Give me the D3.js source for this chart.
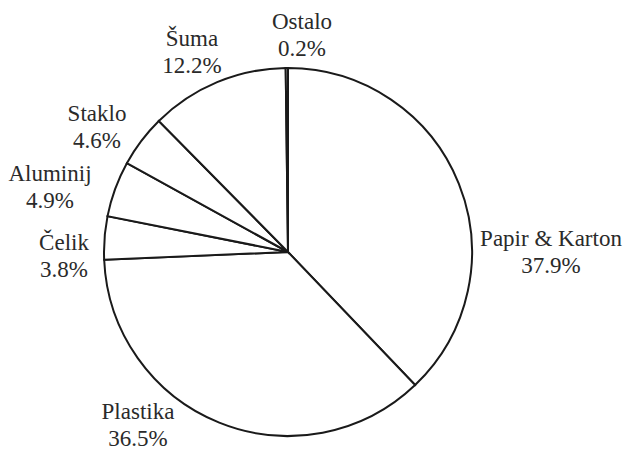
<!DOCTYPE html>
<html>
<head>
<script src="https://cdn.jsdelivr.net/npm/d3@7"></script>
</head>
<body style="margin:0">
<div id="chart"></div>
<script>
// clockwise from 12 o'clock
const categories = ["Papir & Karton", "Plastika", "Čelik", "Aluminij", "Staklo", "Šuma", "Ostalo"];
const shares = [37.9, 36.5, 3.8, 4.9, 4.6, 12.2, 0.2];
const shareLabels = ["37.9%", "36.5%", "3.8%", "4.9%", "4.6%", "12.2%", "0.2%"];

// label anchor points (text centre, first-line baseline)
const labelPos = [[551, 246], [138, 419], [64, 250], [50, 181], [97, 121], [192, 46], [302, 29]];

const width = 623;
const height = 452;
const cx = 288;
const cy = 252;
const radius = 184;

const svg = d3.select("#chart").append("svg").attr("width", width).attr("height", height);
const g = svg.append("g").attr("transform", `translate(${cx},${cy})`);

const pie = d3.pie().sort(null).value((d) => d.value).startAngle(0).endAngle(2 * Math.PI);
const arc = d3.arc().innerRadius(0).outerRadius(radius);
const slices = pie(categories.map((name, i) => ({ name, value: shares[i], label: shareLabels[i] })));

g.selectAll("path")
  .data(slices)
  .join("path")
  .attr("d", arc)
  .attr("fill", "#ffffff")
  .attr("stroke", "#1a1a1a")
  .attr("stroke-width", 2)
  .attr("stroke-linejoin", "miter");

slices.forEach((s, i) => {
  const [x, y] = labelPos[i];
  const t = svg
    .append("text")
    .attr("x", x)
    .attr("y", y)
    .attr("text-anchor", "middle")
    .style("font-family", "\"Liberation Serif\"")
    .style("font-size", "23px")
    .style("fill", "#2a2a2a");
  t.append("tspan").attr("x", x).text(s.data.name);
  t.append("tspan").attr("x", x).attr("dy", 27).text(s.data.label);
});
</script>
</body>
</html>
